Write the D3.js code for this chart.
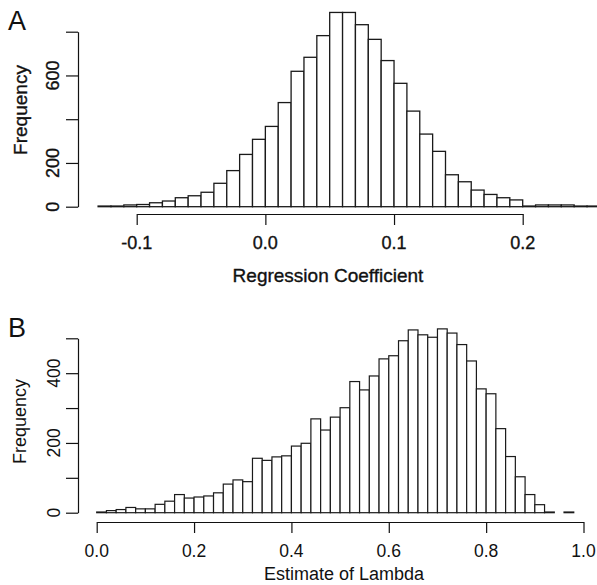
<!DOCTYPE html>
<html>
<head>
<meta charset="utf-8">
<script src="https://cdn.jsdelivr.net/npm/d3@7"></script>
<style>
  html, body { margin: 0; padding: 0; background: #fff; }
  svg { display: block; }
  text { font-family: "Liberation Sans", Arial, sans-serif; fill: #111; }
</style>
</head>
<body>
<svg id="chart" width="597" height="585"></svg>
<script>
// ---------- Data ----------
// Panel A: Regression coefficient histogram (bin width 0.01, first bin starts at -0.13)
const aBinStart = -0.13;
const aBinWidth = 0.01;
const aCounts = [3, 3, 8, 10, 18, 26, 41, 50, 66, 107, 165, 239, 308, 367, 476, 619,
                 683, 782, 888, 888, 832, 765, 668, 564, 437, 332, 253, 146, 114, 76,
                 56, 41, 31, 3, 8, 8, 8, 3, 3];
const aXTicks = [-0.1, 0.0, 0.1, 0.2];
const aXTickLabels = ["-0.1", "0.0", "0.1", "0.2"];
const aYTicks = [0, 200, 400, 600, 800];
const aYTickLabels = ["0", "200", "", "600", ""];

// Panel B: Estimate of Lambda histogram (bin width 0.02, first bin starts at 0)
const bBinStart = 0.0;
const bBinWidth = 0.02;
const bCounts = [2, 6, 9, 15, 11, 11, 24, 33, 52, 42, 45, 48, 57, 82, 94, 89, 156, 150,
                 160, 163, 191, 199, 269, 237, 274, 301, 376, 352, 392, 441, 450, 493,
                 524, 510, 503, 527, 515, 482, 435, 355, 341, 241, 161, 103, 52, 23, 2, 0, 2];
const bXTicks = [0.0, 0.2, 0.4, 0.6, 0.8, 1.0];
const bXTickLabels = ["0.0", "0.2", "0.4", "0.6", "0.8", "1.0"];
const bYTicks = [0, 100, 200, 300, 400, 500];
const bYTickLabels = ["0", "", "200", "", "400", ""];

// ---------- Drawing ----------
const svg = d3.select("#chart");

function panel(cfg) {
  const g = svg.append("g");
  const x = d3.scaleLinear().domain(cfg.xDomain).range(cfg.xRange);
  const y = d3.scaleLinear().domain(cfg.yDomain).range(cfg.yRange);

  const bins = cfg.counts.map((c, i) => ({
    x0: cfg.binStart + i * cfg.binWidth,
    x1: cfg.binStart + (i + 1) * cfg.binWidth,
    c
  }));

  g.append("g").selectAll("rect").data(bins).join("rect")
    .attr("x", d => x(d.x0))
    .attr("width", d => x(d.x1) - x(d.x0))
    .attr("y", d => y(d.c))
    .attr("height", d => Math.max(0, y(0) - y(d.c)))
    .attr("fill", "#fff")
    .attr("stroke", "#1a1a1a")
    .attr("stroke-width", cfg.barStroke);

  const textStroke = cfg.textStroke;
  function heavy(sel) {
    if (textStroke > 0) sel.attr("stroke", "#111").attr("stroke-width", textStroke);
    return sel;
  }

  // y axis
  const ya = g.append("g")
    .attr("transform", `translate(${cfg.yAxisX},0)`)
    .call(d3.axisLeft(y).tickValues(cfg.yTicks).tickSize(12).tickSizeOuter(0).tickFormat(""));
  ya.selectAll("path, line").attr("stroke", "#111").attr("stroke-width", 1.2);

  heavy(g.append("g").selectAll("text").data(cfg.yTicks).join("text")
    .attr("transform", (d) => `translate(${cfg.yLabelX},${y(d)}) rotate(-90)`)
    .attr("text-anchor", "middle")
    .attr("font-size", cfg.tickFont)
    .text((d, i) => cfg.yTickLabels[i]));

  // x axis
  const xa = g.append("g")
    .attr("transform", `translate(0,${cfg.xAxisY})`)
    .call(d3.axisBottom(x).tickValues(cfg.xTicks).tickSize(11).tickSizeOuter(0).tickFormat(""));
  xa.selectAll("path, line").attr("stroke", "#111").attr("stroke-width", 1.2);

  heavy(g.append("g").selectAll("text").data(cfg.xTicks).join("text")
    .attr("x", d => x(d))
    .attr("y", cfg.xLabelY)
    .attr("text-anchor", "middle")
    .attr("font-size", cfg.tickFont)
    .text((d, i) => cfg.xTickLabels[i]));

  // axis titles
  heavy(g.append("text")
    .attr("x", cfg.xTitleX).attr("y", cfg.xTitleY)
    .attr("text-anchor", "middle")
    .attr("font-size", cfg.titleFont)
    .text(cfg.xTitle));

  heavy(g.append("text")
    .attr("transform", `translate(${cfg.yTitleX},${cfg.yTitleY}) rotate(-90)`)
    .attr("text-anchor", "middle")
    .attr("font-size", cfg.titleFont)
    .text("Frequency"));

  // panel letter
  g.append("text")
    .attr("x", cfg.letterX).attr("y", cfg.letterY)
    .attr("font-family", "Lato, 'Liberation Sans', sans-serif")
    .attr("font-size", 27)
    .text(cfg.letter);
}

panel({
  letter: "A", letterX: 8, letterY: 29.5,
  counts: aCounts, binStart: aBinStart, binWidth: aBinWidth,
  xDomain: [-0.1, 0.2], xRange: [136.7, 522.7],
  yDomain: [0, 800], yRange: [206.7, 31.7],
  xTicks: aXTicks, xTickLabels: aXTickLabels,
  yTicks: aYTicks, yTickLabels: aYTickLabels,
  yAxisX: 78, xAxisY: 214, yLabelX: 58.5, xLabelY: 248.5,
  xTitle: "Regression Coefficient", xTitleX: 328, xTitleY: 281.5,
  yTitleX: 27, yTitleY: 110,
  tickFont: 18, titleFont: 19, barStroke: 1.3, textStroke: 0.35
});

panel({
  letter: "B", letterX: 8, letterY: 336.7,
  counts: bCounts, binStart: bBinStart, binWidth: bBinWidth,
  xDomain: [0, 1], xRange: [96.7, 583.5],
  yDomain: [0, 500], yRange: [512.7, 338.3],
  xTicks: bXTicks, xTickLabels: bXTickLabels,
  yTicks: bYTicks, yTickLabels: bYTickLabels,
  yAxisX: 78, xAxisY: 522, yLabelX: 60, xLabelY: 557,
  xTitle: "Estimate of Lambda", xTitleX: 344, xTitleY: 580,
  yTitleX: 26, yTitleY: 421.5,
  tickFont: 17.5, titleFont: 18, barStroke: 1.2, textStroke: 0
});
</script>
</body>
</html>
